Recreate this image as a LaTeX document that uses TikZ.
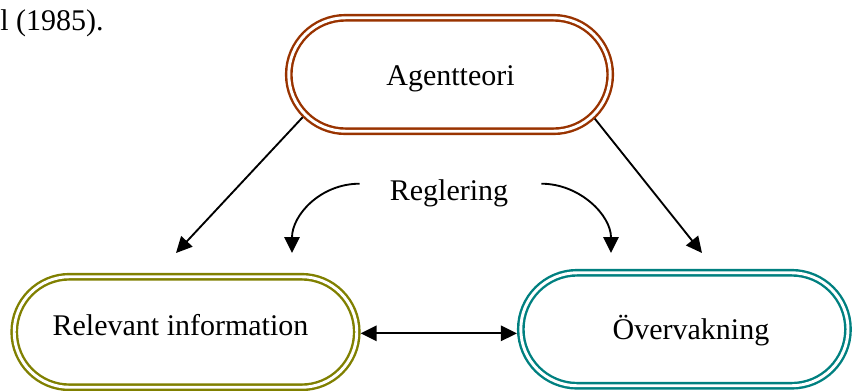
\documentclass[tikz,border=0pt]{standalone}
\usepackage{fontspec}
\setmainfont{Liberation Serif}
\usetikzlibrary{arrows.meta,calc}

\definecolor{agentbrown}{RGB}{153,51,0}
\definecolor{infoolive}{RGB}{128,128,0}
\definecolor{monteal}{RGB}{0,128,128}

\tikzset{
  pill/.style={draw=#1, rectangle, line width=1.8pt, double=white,
    double distance=2.2pt, inner sep=0pt, outer sep=2.9pt},
  lbl/.style={inner sep=0pt, anchor=base,
    font=\fontsize{22.5}{27}\selectfont},
  arr/.style={line width=1.4pt, -{Triangle[length=12pt,width=11.5pt]}},
  arrboth/.style={line width=1.4pt,
    {Triangle[length=12pt,width=11.5pt]}-{Triangle[length=12pt,width=11.5pt]}}
}

\begin{document}
\begin{tikzpicture}[x=0.75pt,y=0.75pt]
  \useasboundingbox (0,0) rectangle (853,-390);
  \clip (0,0) rectangle (853,-390);

  % trailing citation text
  \node[lbl, anchor=base west] (cite) at (0,-30) {l (1985).};

  % the three rounded boxes
  \node[pill=agentbrown, minimum width=241.1pt, minimum height=85.1pt,
        rounded corners=42.55pt] (agent) at (449.5,-74.5) {};
  \node[pill=infoolive, minimum width=256.9pt, minimum height=82.9pt,
        rounded corners=41.4pt] (relinfo) at (185.5,-332) {};
  \node[pill=monteal, minimum width=245.4pt, minimum height=84.75pt,
        rounded corners=42.35pt] (overv) at (684.4,-329.25) {};

  % box texts
  \node[lbl] (agenttxt) at (450.5,-85) {Agentteori};
  \node[lbl] (relinfotxt) at (180.5,-335) {Relevant information};
  \node[lbl] (overvtxt) at (691,-339) {Övervakning};
  \node[lbl] (regl) at (449,-200.7) {Reglering};

  % free ends and start points of the arrows
  \coordinate (aL) at ($(agent.west)+(60.5,0)+(225:60.5)$);
  \coordinate (aR) at ($(agent.east)+(-60.5,0)+(-47:60.5)$);
  \coordinate (tL) at (176,-253);
  \coordinate (tR) at (702,-253);
  \coordinate (rL) at ($(regl.base west)+(-30,17)$);
  \coordinate (rR) at ($(regl.base east)+(33,17)$);
  \coordinate (cL) at (292,-253);
  \coordinate (cR) at (611,-253);

  % connectors
  \draw[arr] (aL) -- (tL);
  \draw[arr] (aR) -- (tR);
  \draw[arr] (rL) .. controls +(-39,0) and +(0,38) .. (cL);
  \draw[arr] (rR) .. controls +(38,0) and +(0,38) .. (cR);
  \draw[arrboth] ([yshift=-1pt]relinfo.east) -- ([yshift=-1pt]relinfo.east -| overv.west);
\end{tikzpicture}
\end{document}
